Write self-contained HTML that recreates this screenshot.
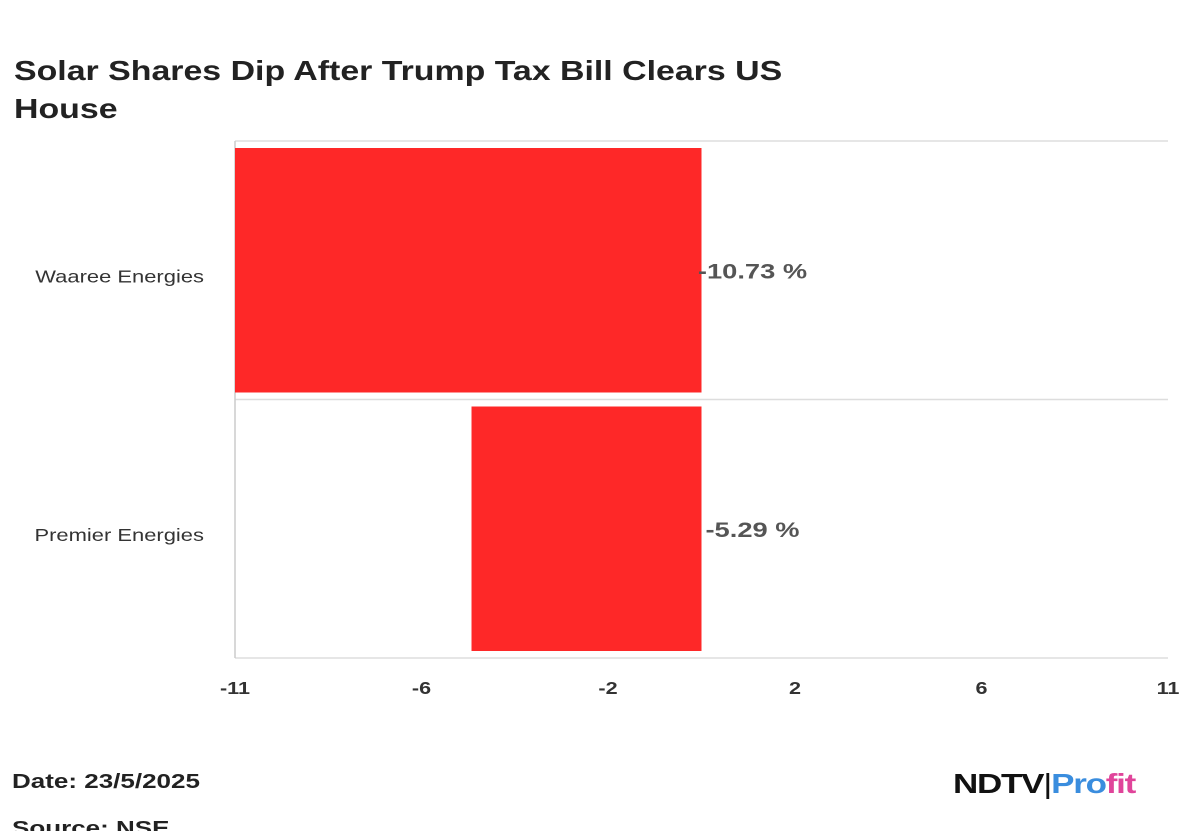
<!DOCTYPE html>
<html><head><meta charset="utf-8"><style>
body{margin:0;background:#fff;font-family:"Liberation Sans",sans-serif;}
#wrap{position:relative;width:1200px;height:831px;overflow:hidden;}
.title{position:absolute;left:14px;top:52px;font-size:28px;font-weight:bold;color:#222;line-height:38px;transform:scaleX(1.21);transform-origin:0 0;white-space:nowrap;}
.foot{position:absolute;font-size:20px;font-weight:bold;color:#222;transform:scaleX(1.3);transform-origin:0 0;}
</style></head><body>
<div id="wrap">
<div class="title">Solar Shares Dip After Trump Tax Bill Clears US<br>House</div>
<svg id="chart" width="1200" height="831" style="position:absolute;left:0;top:0"></svg>
<div class="foot" style="left:12px;top:771px">Date: 23/5/2025</div>
<div class="foot" style="left:12px;top:818px">Source: NSE</div>
<div style="position:absolute;left:953px;top:768px;font-size:28px;font-weight:900;letter-spacing:-1px;transform:scaleX(1.25);transform-origin:0 0;white-space:nowrap"><span style="color:#111">NDTV</span><span style="color:#111;font-weight:normal">|</span><span style="color:#3a8dde">Pro</span><span style="color:#e0449a">fit</span></div>
</div>
<script>
const categories=["Waaree Energies","Premier Energies"];
const values=[-10.73,-5.29];
const valueLabels=["-10.73 %","-5.29 %"];
const tickValues=[-10.73,-6.44,-2.15,2.15,6.44,10.73];
const tickLabels=["-11","-6","-2","2","6","11"];
const svg=document.getElementById('chart');
const NS="http://www.w3.org/2000/svg";
const L=235,R=1168,T=141,B=658;
const xMin=-10.73,xMax=10.73;
const x=v=>L+(v-xMin)/(xMax-xMin)*(R-L);
const band=(B-T)/categories.length;
function mk(t,a){const e=document.createElementNS(NS,t);for(const k in a)e.setAttribute(k,a[k]);svg.appendChild(e);return e;}
for(let i=0;i<=categories.length;i++){
  const g=mk('line',{x1:L,x2:R,y1:T+i*band,y2:T+i*band,stroke:'#ddd','stroke-width':1.5});
  
  
}
const ax=mk('line',{x1:L,x2:L,y1:T,y2:B,stroke:'#ccc','stroke-width':1.5});


categories.forEach((c,i)=>{
  const y0=T+i*band;
  const x0=x(Math.min(0,values[i])),x1=x(Math.max(0,values[i]));
  const r=mk('rect',{x:x0,y:y0+7,width:x1-x0,height:band-14,fill:'#fe2828'});
  
  
  const t=mk('text',{transform:'translate(204,'+(y0+band/2+12)+') scale(1.22,1)','text-anchor':'end','font-size':18,fill:'#333'});
  t.textContent=c;
  
  
  const v=mk('text',{transform:'translate('+(x(0)+51)+','+(y0+band/2+8)+') scale(1.3,1)','text-anchor':'middle','font-size':21,'font-weight':'bold',fill:'#555'});
  v.textContent=valueLabels[i];
  
  
});
tickValues.forEach((tv,i)=>{
  const t=mk('text',{transform:'translate('+x(tv)+','+(B+36)+') scale(1.2,1)','text-anchor':'middle','font-size':18,'font-weight':'bold',fill:'#333'});
  t.textContent=tickLabels[i];
  
  
});
</script>
</body></html>
